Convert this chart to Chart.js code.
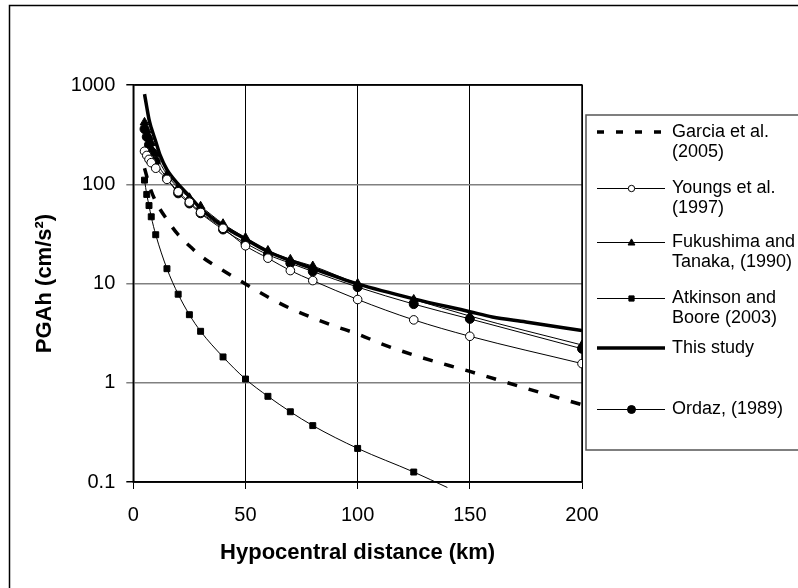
<!DOCTYPE html>
<html>
<head>
<meta charset="utf-8">
<script src="https://cdn.jsdelivr.net/npm/chart.js@4.4.1/dist/chart.umd.min.js"></script>
<style>
  html, body { margin: 0; padding: 0; background: #fff; }
  canvas { display: block; }
</style>
</head>
<body>
<canvas id="chart" width="798" height="588"></canvas>
<script>
// tick values and labels
const xTicks = [0, 50, 100, 150, 200];
const yTicks = [0.1, 1, 10, 100, 1000];
const yTickLabels = ['0.1', '1', '10', '100', '1000'];

// legend text, one array of lines per series
const seriesNames = [
  ['Garcia et al.', '(2005)'],
  ['Youngs et al.', '(1997)'],
  ['Fukushima and', 'Tanaka, (1990)'],
  ['Atkinson and', 'Boore (2003)'],
  ['This study'],
  ['Ordaz, (1989)']
];

// distances (km) where the marked curves have points
const dist = [5, 6, 7, 8, 10, 15, 20, 25, 30, 40, 50, 60, 70, 80, 100, 125, 150, 200];
const youngs = [215, 195, 178, 165, 145, 112, 84, 66, 52, 36, 24, 18, 13.5, 10.7, 6.9, 4.3, 2.94, 1.56];
const fukushima = [420, 350, 300, 260, 200, 125, 92, 73, 60, 40, 29, 21.5, 17.5, 15, 10, 6.9, 4.7, 2.4];
const ordaz = [360, 300, 250, 215, 170, 115, 81, 64, 51, 35, 25.5, 19.5, 16, 13.2, 9.2, 6.2, 4.4, 2.2];

const atkDist = [5, 6, 7, 8, 10, 15, 20, 25, 30, 40, 50, 60, 70, 80, 100, 125, 140];
const atkinson = [110, 79, 61, 47, 31, 14.1, 7.8, 4.85, 3.3, 1.82, 1.09, 0.73, 0.51, 0.37, 0.218, 0.126, 0.088];

const garciaDist = [5, 7.5, 10, 15, 20, 25, 30, 40, 50, 60, 70, 80, 90, 100, 110, 125, 150, 175, 200];
const garcia = [145, 92, 67, 44, 31, 24, 19, 13.5, 9.9, 7.3, 5.6, 4.5, 3.7, 3.1, 2.5, 1.9, 1.3, 0.88, 0.6];

const studyDist = [5, 6, 7, 8, 10, 12, 15, 20, 25, 30, 40, 50, 60, 70, 80, 90, 100, 125, 150, 160, 175, 200];
const study = [810, 600, 450, 370, 270, 195, 140, 100, 76, 57, 38, 28, 21, 17, 14.2, 11.8, 9.9, 7.0, 5.2, 4.6, 4.1, 3.35];

const FONT = "'Liberation Sans', Arial, sans-serif";

function pts(xs, ys) {
  return xs.map((x, i) => ({ x: x, y: ys[i] }));
}

function drawMarker(ctx, style, x, y, r, fill) {
  ctx.beginPath();
  if (style === 'circle') {
    ctx.arc(x, y, r, 0, Math.PI * 2);
  } else if (style === 'triangle') {
    ctx.moveTo(x, y - r);
    ctx.lineTo(x + r * 0.95, y + r * 0.7);
    ctx.lineTo(x - r * 0.95, y + r * 0.7);
    ctx.closePath();
  } else if (style === 'rect') {
    ctx.rect(x - r, y - r, 2 * r, 2 * r);
  }
  ctx.fillStyle = fill;
  ctx.fill();
  ctx.lineWidth = 1;
  ctx.strokeStyle = '#000';
  ctx.stroke();
}

const framePlugin = {
  id: 'frame',
  beforeDraw(chart) {
    const ctx = chart.ctx;
    ctx.save();
    ctx.fillStyle = '#fff';
    ctx.fillRect(0, 0, chart.width, chart.height);
    ctx.strokeStyle = '#000';
    ctx.lineWidth = 1.5;
    ctx.strokeRect(9.5, 5.5, 900, 700);
    ctx.restore();
  },
  beforeDatasetsDraw(chart) {
    const a = chart.chartArea;
    const ctx = chart.ctx;
    ctx.save();
    ctx.strokeStyle = '#000';
    ctx.lineWidth = 1.5;
    ctx.strokeRect(a.left, a.top, a.right - a.left, a.bottom - a.top);
    ctx.restore();
  }
};

const legendPlugin = {
  id: 'boxLegend',
  afterDraw(chart) {
    const ctx = chart.ctx;
    const left = 586, top = 115, bottom = 450;
    const rows = [17, 73, 127, 183, 233, 294];
    ctx.save();
    ctx.strokeStyle = '#555';
    ctx.lineWidth = 1.5;
    ctx.strokeRect(left, top, 900, bottom - top);
    ctx.font = '18px ' + FONT;
    ctx.textBaseline = 'middle';
    ctx.fillStyle = '#000';
    chart.data.datasets.forEach((ds, i) => {
      const y = top + rows[i];
      const ly = ds.borderWidth < 2 ? y + 0.5 : y;
      ctx.beginPath();
      ctx.setLineDash(ds.borderDash && ds.borderDash.length ? [7, 12] : []);
      ctx.lineWidth = ds.borderWidth;
      ctx.strokeStyle = '#000';
      ctx.moveTo(597, ly);
      ctx.lineTo(665, ly);
      ctx.stroke();
      ctx.setLineDash([]);
      if (ds.legendMarker) {
        drawMarker(ctx, ds.pointStyle, 631.5, ly, ds.legendMarker, ds.pointBackgroundColor);
      }
      ctx.fillStyle = '#000';
      seriesNames[i].forEach((line, j) => {
        ctx.fillText(line, 672, y + j * 20.5);
      });
    });
    ctx.restore();
  }
};

const datasets = [
  {
    label: seriesNames[0].join(' '),
    data: pts(garciaDist, garcia),
    borderColor: '#000', borderWidth: 3.5, borderDash: [10, 12],
    pointRadius: 0
  },
  {
    label: seriesNames[1].join(' '),
    data: pts(dist, youngs),
    borderColor: '#000', borderWidth: 1,
    pointStyle: 'circle', pointRadius: 4.3, pointBackgroundColor: '#fff',
    pointBorderColor: '#000', pointBorderWidth: 1, legendMarker: 3.2
  },
  {
    label: seriesNames[2].join(' '),
    data: pts(dist, fukushima),
    borderColor: '#000', borderWidth: 1,
    pointStyle: 'triangle', pointRadius: 5, pointBackgroundColor: '#000',
    pointBorderColor: '#000', pointBorderWidth: 1, legendMarker: 3.6
  },
  {
    label: seriesNames[3].join(' '),
    data: pts(atkDist, atkinson),
    borderColor: '#000', borderWidth: 1,
    pointStyle: 'rect', pointBackgroundColor: '#000',
    pointRadius: ctx => (ctx.raw && ctx.raw.y < 0.1 ? 0 : 4.2),
    pointBorderColor: '#000', pointBorderWidth: 1, legendMarker: 2.6,
    clip: { left: 0, top: 0, right: 0, bottom: 6 }
  },
  {
    label: seriesNames[4].join(' '),
    data: pts(studyDist, study),
    borderColor: '#000', borderWidth: 3.5,
    pointRadius: 0
  },
  {
    label: seriesNames[5].join(' '),
    data: pts(dist, ordaz),
    borderColor: '#000', borderWidth: 1,
    pointStyle: 'circle', pointRadius: 4.5, pointBackgroundColor: '#000',
    pointBorderColor: '#000', pointBorderWidth: 1, legendMarker: 4
  }
];

const yGridColor = ctx => {
  const v = ctx.tick && ctx.tick.value;
  return (v === 0.1 || v === 1000) ? '#000' : '#808080';
};

new Chart(document.getElementById('chart'), {
  type: 'line',
  data: { datasets: datasets },
  plugins: [framePlugin, legendPlugin],
  options: {
    responsive: false,
    animation: false,
    layout: { padding: { left: 0, top: 85, right: 216, bottom: 0 } },
    elements: { line: { cubicInterpolationMode: 'monotone', fill: false } },
    plugins: { legend: { display: false }, tooltip: { enabled: false } },
    scales: {
      x: {
        type: 'linear', min: 0, max: 200,
        afterBuildTicks: s => { s.ticks = xTicks.map(v => ({ value: v })); },
        afterFit: s => { s.height = 106; s.paddingLeft = 0; s.paddingRight = 0; },
        ticks: { padding: 14, color: '#000', maxRotation: 0, font: { family: FONT, size: 20 } },
        grid: { color: '#000', lineWidth: 1, tickLength: 7, tickColor: '#000' },
        border: { color: '#000', width: 1.5 },
        title: {
          display: true, text: 'Hypocentral distance (km)', color: '#000',
          font: { family: FONT, size: 22, weight: 'bold' },
          padding: { top: 0, bottom: 22 }
        }
      },
      y: {
        type: 'logarithmic', min: 0.1, max: 1000,
        afterBuildTicks: s => { s.ticks = yTicks.map(v => ({ value: v })); },
        afterFit: s => { s.width = 133.3; s.paddingTop = 0; s.paddingBottom = 0; },
        ticks: {
          padding: 11, color: '#000', font: { family: FONT, size: 20 },
          callback: v => { const i = yTicks.indexOf(v); return i < 0 ? '' : yTickLabels[i]; }
        },
        grid: { color: yGridColor, tickColor: yGridColor, lineWidth: 1.5, tickLength: 7 },
        border: { color: '#000', width: 1.5 },
        title: {
          display: true, text: 'PGAh (cm/s²)', color: '#000',
          font: { family: FONT, size: 22, weight: 'bold' },
          padding: { top: 32, bottom: 0 }
        }
      }
    }
  }
});
</script>
</body>
</html>
